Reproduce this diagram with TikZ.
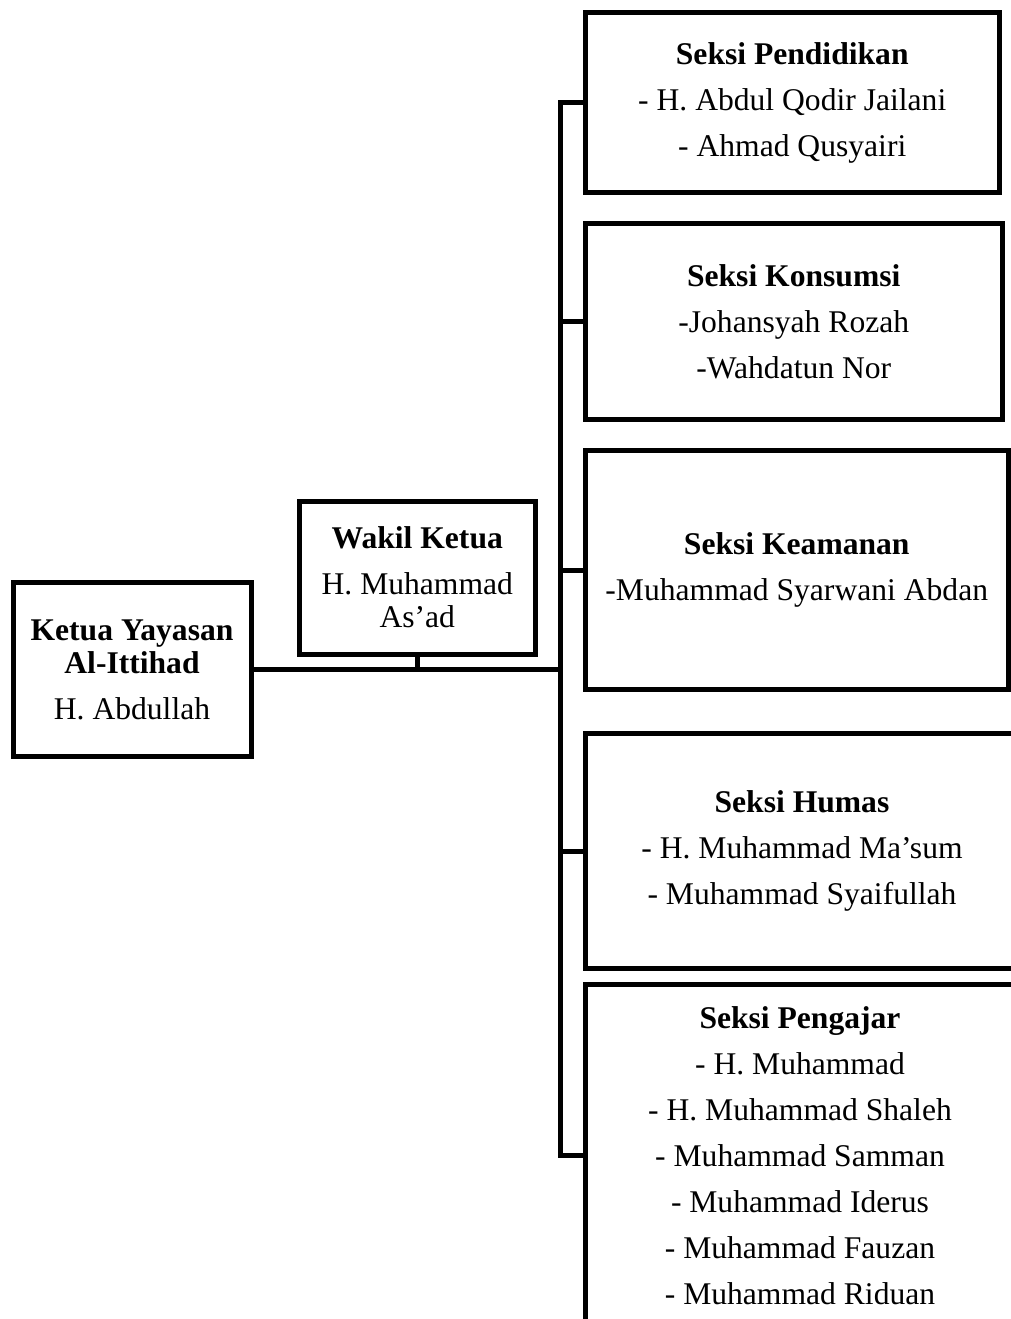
\documentclass[tikz,border=0pt]{standalone}
\usepackage{fontspec}
\setmainfont{Liberation Serif}
\usepackage{tikz}

\begin{document}
\begin{tikzpicture}[x=1pt, y=-1pt, line width=5pt,
  box/.style={draw, line width=5pt, align=center, inner sep=0pt,
    font=\fontsize{31.6}{33}\selectfont}]
\useasboundingbox (0,0) rectangle (1011,1319);
\clip (0,0) rectangle (1011,1319);

% left side
\node[box, minimum width=238pt, minimum height=173.5pt] (ketua) at (132,669.7)
  {\textbf{Ketua Yayasan}\\\textbf{Al-Ittihad}\\[13pt]H. Abdullah};
\node[box, minimum width=236.6pt, minimum height=153pt] (wakil) at (417.3,577.5)
  {\textbf{Wakil Ketua}\\[13pt]H. Muhammad\\As’ad};

% sections
\node[box, minimum width=414.5pt, minimum height=180pt] (pendidikan) at (792.25,102.5)
  {\textbf{Seksi Pendidikan}\\[13pt]- H. Abdul Qodir Jailani\\[13pt]- Ahmad Qusyairi};
\node[box, minimum width=417.5pt, minimum height=196pt] (konsumsi) at (793.75,321.5)
  {\textbf{Seksi Konsumsi}\\[13pt]-Johansyah Rozah\\[13pt]-Wahdatun Nor};
\node[box, minimum width=423.5pt, minimum height=239pt] (keamanan) at (796.75,570)
  {\textbf{Seksi Keamanan}\\[13pt]-Muhammad Syarwani Abdan};
\node[box, minimum width=434pt, minimum height=235pt] (humas) at (802,851)
  {\textbf{Seksi Humas}\\[13pt]- H. Muhammad Ma’sum\\[13pt]- Muhammad Syaifullah};
\node[box, minimum width=430pt, minimum height=341.5pt] (pengajar) at (800,1155.25)
  {\textbf{Seksi Pengajar}\\[13pt]- H. Muhammad\\[13pt]- H. Muhammad Shaleh\\[13pt]- Muhammad Samman\\[13pt]- Muhammad Iderus\\[13pt]- Muhammad Fauzan\\[13pt]- Muhammad Riduan};

% lines
\coordinate (spine) at (560.5,0);
\draw (ketua.east) -- (ketua.east -| spine);
\draw (wakil.south) -- (wakil.south |- ketua.east);
\draw (pendidikan.west) -- (pendidikan.west -| spine) -- (pengajar.west -| spine) -- (pengajar.west);
\foreach \s in {konsumsi, keamanan, humas}
  \draw (\s.west -| spine) -- (\s.west);
\end{tikzpicture}
\end{document}
